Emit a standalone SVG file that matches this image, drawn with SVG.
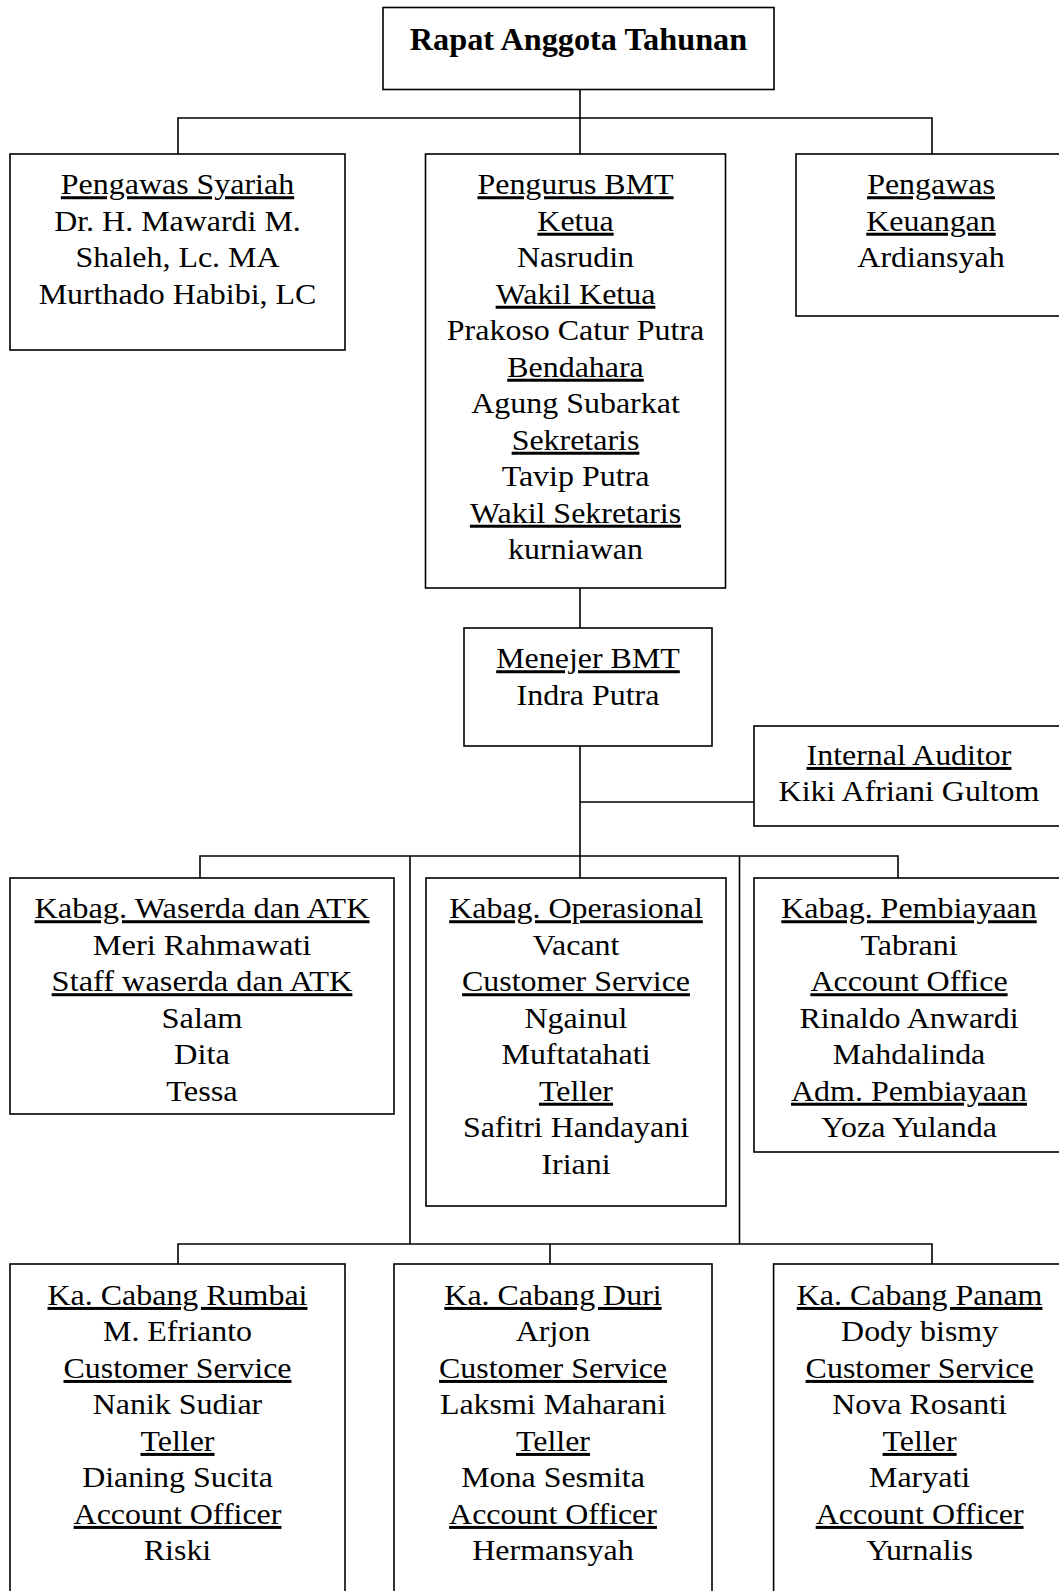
<svg xmlns="http://www.w3.org/2000/svg" width="1059" height="1591" viewBox="0 0 1059 1591">
<style>
.bx{fill:#fff;stroke:#000;stroke-width:1.6}
.ln{fill:none;stroke:#000;stroke-width:1.6}
.t{font-family:"Liberation Serif","Times New Roman",serif;font-size:30px;fill:#000;text-anchor:middle}
.tb{font-family:"Liberation Serif","Times New Roman",serif;font-size:32.3px;font-weight:bold;fill:#000;text-anchor:middle}
.u{text-decoration:underline;text-decoration-skip-ink:none}
</style>
<rect width="1059" height="1591" fill="#fff"/>
<g id="connectors">
<path class="ln" d="M580 89.5V118M178 154V118H932V154M580 118V154"/>
<path class="ln" d="M580 588V628"/>
<path class="ln" d="M580 746V856M580 802H754"/>
<path class="ln" d="M200 878V856H898V878M580 856V878M410 856V1244M739.5 856V1244"/>
<path class="ln" d="M178 1264V1244H932V1264M550 1244V1264"/>
</g>
<g id="rapat">
<rect class="bx" x="383" y="7.5" width="391" height="82"/>
<text class="tb" x="578.5" y="50">Rapat Anggota Tahunan</text>
</g>
<g id="pengawas-syariah">
<rect class="bx" x="10" y="154" width="335" height="196"/>
<text class="t" transform="translate(177.5 194.3) scale(1.065 1)"><tspan class="u" x="0" y="0">Pengawas Syariah</tspan><tspan x="0" y="36.5">Dr. H. Mawardi M.</tspan><tspan x="0" y="73">Shaleh, Lc. MA</tspan><tspan x="0" y="109.5">Murthado Habibi, LC</tspan></text>
</g>
<g id="pengurus">
<rect class="bx" x="425.5" y="154" width="300" height="434"/>
<text class="t" transform="translate(575.5 194.3) scale(1.065 1)"><tspan class="u" x="0" y="0">Pengurus BMT</tspan><tspan class="u" x="0" y="36.5">Ketua</tspan><tspan x="0" y="73">Nasrudin</tspan><tspan class="u" x="0" y="109.5">Wakil Ketua</tspan><tspan x="0" y="146">Prakoso Catur Putra</tspan><tspan class="u" x="0" y="182.5">Bendahara</tspan><tspan x="0" y="219">Agung Subarkat</tspan><tspan class="u" x="0" y="255.5">Sekretaris</tspan><tspan x="0" y="292">Tavip Putra</tspan><tspan class="u" x="0" y="328.5">Wakil Sekretaris</tspan><tspan x="0" y="365">kurniawan</tspan></text>
</g>
<g id="pengawas-keuangan">
<rect class="bx" x="796" y="154" width="270" height="162"/>
<text class="t" transform="translate(931 194.3) scale(1.065 1)"><tspan class="u" x="0" y="0">Pengawas</tspan><tspan class="u" x="0" y="36.5">Keuangan</tspan><tspan x="0" y="73">Ardiansyah</tspan></text>
</g>
<g id="menejer">
<rect class="bx" x="464" y="628" width="248" height="118"/>
<text class="t" transform="translate(588 668.3) scale(1.065 1)"><tspan class="u" x="0" y="0">Menejer BMT</tspan><tspan x="0" y="36.5">Indra Putra</tspan></text>
</g>
<g id="internal-auditor">
<rect class="bx" x="754" y="726" width="312" height="100"/>
<text class="t" transform="translate(909 765) scale(1.065 1)"><tspan class="u" x="0" y="0">Internal Auditor</tspan><tspan x="0" y="36.5">Kiki Afriani Gultom</tspan></text>
</g>
<g id="waserda">
<rect class="bx" x="10" y="878" width="384" height="236"/>
<text class="t" transform="translate(202 918.3) scale(1.08 1)"><tspan class="u" x="0" y="0">Kabag. Waserda dan ATK</tspan><tspan x="0" y="36.5">Meri Rahmawati</tspan><tspan class="u" x="0" y="73">Staff waserda dan ATK</tspan><tspan x="0" y="109.5">Salam</tspan><tspan x="0" y="146">Dita</tspan><tspan x="0" y="182.5">Tessa</tspan></text>
</g>
<g id="operasional">
<rect class="bx" x="426" y="878" width="300" height="328"/>
<text class="t" transform="translate(576 918.3) scale(1.065 1)"><tspan class="u" x="0" y="0">Kabag. Operasional</tspan><tspan x="0" y="36.5">Vacant</tspan><tspan class="u" x="0" y="73">Customer Service</tspan><tspan x="0" y="109.5">Ngainul</tspan><tspan x="0" y="146">Muftatahati</tspan><tspan class="u" x="0" y="182.5">Teller</tspan><tspan x="0" y="219">Safitri Handayani</tspan><tspan x="0" y="255.5">Iriani</tspan></text>
</g>
<g id="pembiayaan">
<rect class="bx" x="754" y="878" width="310" height="274"/>
<text class="t" transform="translate(909 918.3) scale(1.065 1)"><tspan class="u" x="0" y="0">Kabag. Pembiayaan</tspan><tspan x="0" y="36.5">Tabrani</tspan><tspan class="u" x="0" y="73">Account Office</tspan><tspan x="0" y="109.5">Rinaldo Anwardi</tspan><tspan x="0" y="146">Mahdalinda</tspan><tspan class="u" x="0" y="182.5">Adm. Pembiayaan</tspan><tspan x="0" y="219">Yoza Yulanda</tspan></text>
</g>
<g id="cabang-rumbai">
<rect class="bx" x="10" y="1264" width="335" height="340"/>
<text class="t" transform="translate(177.5 1305) scale(1.065 1)"><tspan class="u" x="0" y="0">Ka. Cabang Rumbai</tspan><tspan x="0" y="36.5">M. Efrianto</tspan><tspan class="u" x="0" y="73">Customer Service</tspan><tspan x="0" y="109.5">Nanik Sudiar</tspan><tspan class="u" x="0" y="146">Teller</tspan><tspan x="0" y="182.5">Dianing Sucita</tspan><tspan class="u" x="0" y="219">Account Officer</tspan><tspan x="0" y="255.5">Riski</tspan></text>
</g>
<g id="cabang-duri">
<rect class="bx" x="394" y="1264" width="318" height="340"/>
<text class="t" transform="translate(553 1305) scale(1.065 1)"><tspan class="u" x="0" y="0">Ka. Cabang Duri</tspan><tspan x="0" y="36.5">Arjon</tspan><tspan class="u" x="0" y="73">Customer Service</tspan><tspan x="0" y="109.5">Laksmi Maharani</tspan><tspan class="u" x="0" y="146">Teller</tspan><tspan x="0" y="182.5">Mona Sesmita</tspan><tspan class="u" x="0" y="219">Account Officer</tspan><tspan x="0" y="255.5">Hermansyah</tspan></text>
</g>
<g id="cabang-panam">
<rect class="bx" x="773.6" y="1264" width="292" height="340"/>
<text class="t" transform="translate(919.6 1305) scale(1.065 1)"><tspan class="u" x="0" y="0">Ka. Cabang Panam</tspan><tspan x="0" y="36.5">Dody bismy</tspan><tspan class="u" x="0" y="73">Customer Service</tspan><tspan x="0" y="109.5">Nova Rosanti</tspan><tspan class="u" x="0" y="146">Teller</tspan><tspan x="0" y="182.5">Maryati</tspan><tspan class="u" x="0" y="219">Account Officer</tspan><tspan x="0" y="255.5">Yurnalis</tspan></text>
</g>
</svg>
